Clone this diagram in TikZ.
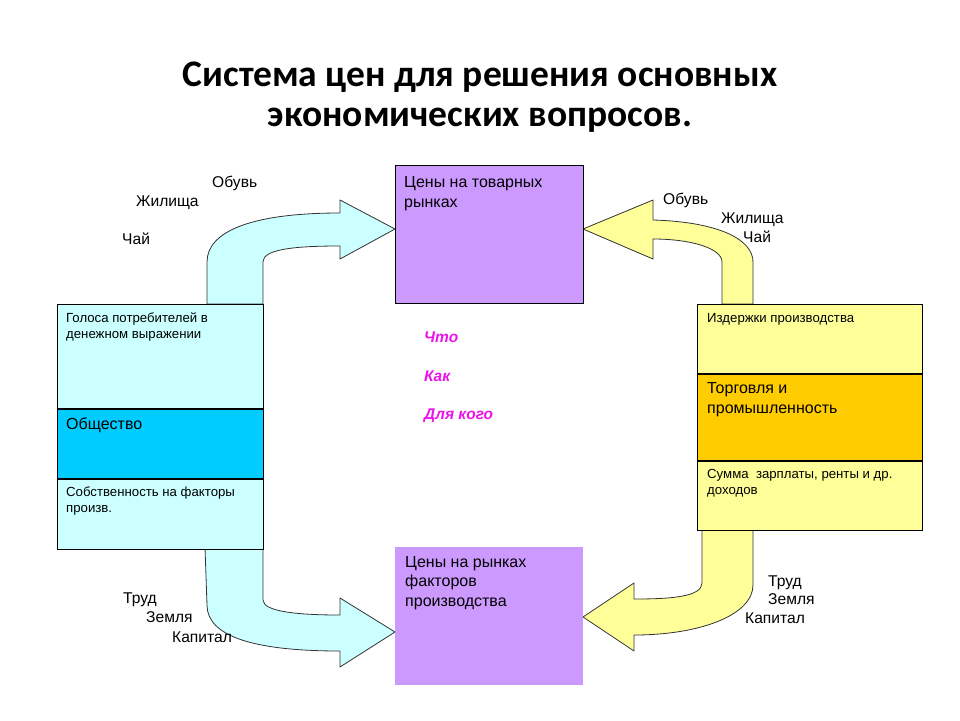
\documentclass[tikz,border=0pt]{standalone}
\usepackage{fontspec}
\setmainfont{Liberation Sans}
\newfontfamily\titlefont{Carlito}
\usepackage{xcolor}
\definecolor{lilac}{RGB}{204,153,255}
\definecolor{palecyan}{RGB}{204,255,255}
\definecolor{skyblue}{RGB}{0,204,255}
\definecolor{paleyellow}{RGB}{255,255,153}
\definecolor{gold}{RGB}{255,204,0}
\definecolor{pinkq}{RGB}{235,20,235}

\begin{document}
\begin{tikzpicture}[x=1pt,y=-1pt,every node/.style={inner sep=0pt,align=left},
  box/.style={draw=black,line width=0.8pt,anchor=north west},
  big/.style={anchor=base west,font=\fontsize{16}{19.5}\selectfont},
  small/.style={anchor=base west,font=\fontsize{13.2}{16}\selectfont},
  lbl/.style={anchor=base west,font=\fontsize{15.6}{19}\selectfont},
  quest/.style={anchor=base west,text=pinkq,font=\fontsize{15.5}{17}\selectfont\bfseries\itshape},
  flow/.style={draw=black!80,line width=0.8pt,line join=round}]
  \path[fill=white,use as bounding box] (0,0) rectangle (960,720);
  \node[anchor=base,align=center,font=\titlefont\bfseries\fontsize{37.5}{40}\selectfont] (title) at (480,126) {Система цен для решения основных\\экономических вопросов.};
  \draw[flow,fill=palecyan] (207,304) -- (207,262) .. controls (207,232) and (250,213) .. (340,213) -- (340,200) -- (395,229) -- (340,259) -- (340,246) .. controls (290,246) and (263,250) .. (263,262) -- (263,304) -- cycle;
  \draw[flow,fill=paleyellow] (722,304) -- (722,262) .. controls (722,248) and (690,239) .. (653,239) -- (653,259) -- (583,229) -- (653,200) -- (653,220) .. controls (720,222) and (753,240) .. (753,262) -- (753,304) -- cycle;
  \draw[flow,fill=palecyan] (263,547) -- (263,600) .. controls (263,612) and (300,615) .. (340,615) -- (340,598) -- (395,632) -- (340,667) -- (340,651) .. controls (250,651) and (207,635) .. (207,605) -- (205,547) -- cycle;
  \draw[flow,fill=paleyellow] (702,528) -- (702,583) .. controls (702,597) and (670,599) .. (634,599) -- (634,583) -- (583,617) -- (634,651) -- (634,635) .. controls (700,635) and (753,615) .. (753,585) -- (753,528) -- cycle;
  \node[box,fill=lilac,minimum width=188,minimum height=138] (goods) at (395,165) {};
  \node[box,fill=lilac,draw=none,minimum width=188,minimum height=138] (factors) at (395,547) {};
  \node[box,fill=palecyan,minimum width=206,minimum height=104] (votes) at (57,304) {};
  \node[box,fill=skyblue,minimum width=206,minimum height=69] (society) at (votes.south west) {};
  \node[box,fill=palecyan,minimum width=206,minimum height=70] (property) at (society.south west) {};
  \node[box,fill=paleyellow,minimum width=225,minimum height=69] (costs) at (697,304) {};
  \node[box,fill=gold,minimum width=225,minimum height=86] (trade) at (costs.south west) {};
  \node[box,fill=paleyellow,minimum width=225,minimum height=69] (income) at (trade.south west) {};
  \node[big] (goodstxt) at (404,207) {Цены на товарных\\рынках};
  \node[big] (factorstxt) at (405,606) {Цены на рынках\\факторов\\производства};
  \node[small] (votestxt) at (66,338) {Голоса потребителей в\\денежном выражении};
  \node[big] (societytxt) at (66,429) {Общество};
  \node[small] (propertytxt) at (66,512) {Собственность на факторы\\произв.};
  \node[small] (coststxt) at (707,322) {Издержки производства};
  \node[big] (tradetxt) at (707,413) {Торговля и\\промышленность};
  \node[small] (incometxt) at (707,494) {Сумма\ \ зарплаты, ренты и др.\\доходов};
  \node[quest] (what) at (424,342) {Что};
  \node[quest] (how) at (424,381) {Как};
  \node[quest] (whom) at (424,419) {Для кого};
  \node[lbl] (shoesl) at (212,187) {Обувь};
  \node[lbl] (housel) at (136,206) {Жилища};
  \node[lbl] (teal) at (122,244) {Чай};
  \node[lbl] (shoesr) at (663,204) {Обувь};
  \node[lbl] (houser) at (721,223) {Жилища};
  \node[lbl] (tear) at (743,242) {Чай};
  \node[lbl] (labourl) at (123,603) {Труд};
  \node[lbl] (landl) at (146,622) {Земля};
  \node[lbl] (capitall) at (172,642) {Капитал};
  \node[lbl] (labourr) at (768,586) {Труд};
  \node[lbl] (landr) at (768,604) {Земля};
  \node[lbl] (capitalr) at (745,623) {Капитал};
\end{tikzpicture}
\end{document}
